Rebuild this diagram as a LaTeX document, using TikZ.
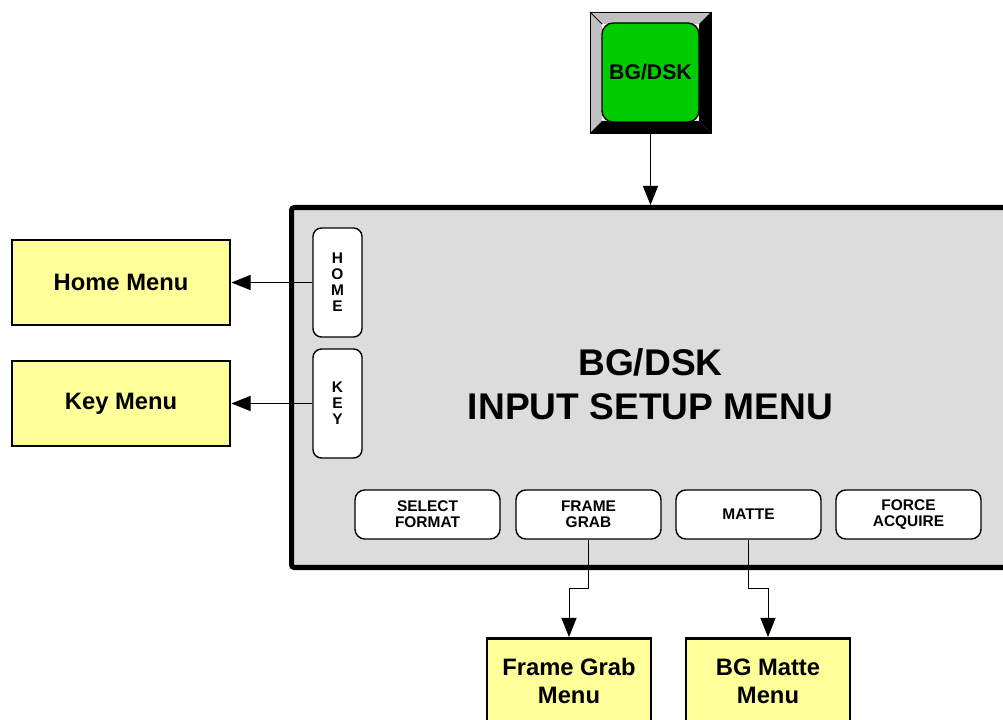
\documentclass[tikz,border=0pt]{standalone}
\usepackage{fontspec}
\setmainfont{Liberation Sans}
\usetikzlibrary{arrows.meta, positioning, calc}
\definecolor{panelgray}{HTML}{DCDCDC}
\definecolor{menuyellow}{HTML}{FFFF99}
\definecolor{keygreen}{HTML}{00CC00}
\definecolor{bevelgray}{HTML}{C0C0C0}

\begin{document}
\begin{tikzpicture}[>={Triangle[length=4.8mm, width=3.8mm]}, line width=0.7pt,
  menubox/.style={draw, line width=2.1pt, fill=menuyellow, minimum width=5.45cm,
    minimum height=2.125cm, align=center, font=\fontsize{16.9}{20}\selectfont\bfseries},
  sidekey/.style={draw, line width=1pt, fill=white, rounded corners=6pt, minimum width=1.225cm,
    minimum height=2.725cm, align=center, font=\fontsize{11}{11.4}\selectfont\bfseries},
  softkey/.style={draw, line width=1pt, fill=white, rounded corners=7pt, minimum width=3.625cm,
    minimum height=1.225cm, align=center, font=\fontsize{11}{11.4}\selectfont\bfseries}]

% Canvas
\clip (0,0) rectangle (25.075,17.975);
\fill[white] (0,0) rectangle (25.075,17.975);

% BG/DSK key with bevel
\fill[bevelgray] (14.75,17.675) -- (17.775,17.675) -- (17.475,17.375) -- (15.05,17.375) -- cycle;
\fill[bevelgray] (14.75,17.675) -- (15.05,17.375) -- (15.05,14.95) -- (14.75,14.65) -- cycle;
\fill[black] (17.775,17.675) -- (17.775,14.65) -- (17.475,14.95) -- (17.475,17.375) -- cycle;
\fill[black] (14.75,14.65) -- (17.775,14.65) -- (17.475,14.95) -- (15.05,14.95) -- cycle;
\draw (14.75,17.675) -- (15.05,17.375);
\node[draw, inner sep=0pt, minimum size=3.025cm] (bgkey) at (16.2625,16.1625) {};
\node[draw, line width=1pt, fill=keygreen, rounded corners=8pt, minimum width=2.425cm,
      minimum height=2.475cm, font=\fontsize{15.1}{16}\selectfont\bfseries] (bgdsk) at (16.2625,16.1625) {BG/DSK};

% Menu panel
\node[draw, line width=3.6pt, fill=panelgray, rounded corners=2pt, minimum width=18.4cm,
      minimum height=9cm, anchor=north west] (panel) at (7.225,12.85) {};
\node[align=center, font=\fontsize{26.4}{31.3}\selectfont\bfseries] (title) at (16.26,8.36)
      {BG/DSK\\INPUT SETUP MENU};

\draw[->] (bgkey.south) -- (bgkey.south |- panel.north);

% Side keys
\node[sidekey] (home) at (8.4375,10.9125) {H\\O\\M\\E};
\node[sidekey] (key) at (8.4375,7.8875) {K\\E\\Y};

\node[menubox] (homemenu) at (3.025,10.9125) {Home Menu};
\node[menubox] (keymenu) at (3.025,7.8875) {Key Menu};

\draw[->] (home.west) -- (homemenu.east);
\draw[->] (key.west) -- (keymenu.east);

% Soft keys
\node[softkey] (selfmt) at (10.6875,5.1125) {SELECT\\FORMAT};
\node[softkey] (fgrab) at (14.7125,5.1125) {FRAME\\GRAB};
\node[softkey] (matte) at (18.7125,5.1125) {MATTE};
\node[softkey] (force) at (22.7125,5.1125) {FORCE\\ACQUIRE};

% Sub menus
\node[menubox, minimum width=4.1cm, anchor=north] (fgmenu) at (14.225,2.05) {Frame Grab\\Menu};
\node[menubox, minimum width=4.1cm, anchor=north] (mattemenu) at (19.2,2.05) {BG Matte\\Menu};

\draw[->] (fgrab.south) -- ++(0,-1.225) -| (fgmenu.north);
\draw[->] (matte.south) -- ++(0,-1.225) -| (mattemenu.north);

\end{tikzpicture}
\end{document}
